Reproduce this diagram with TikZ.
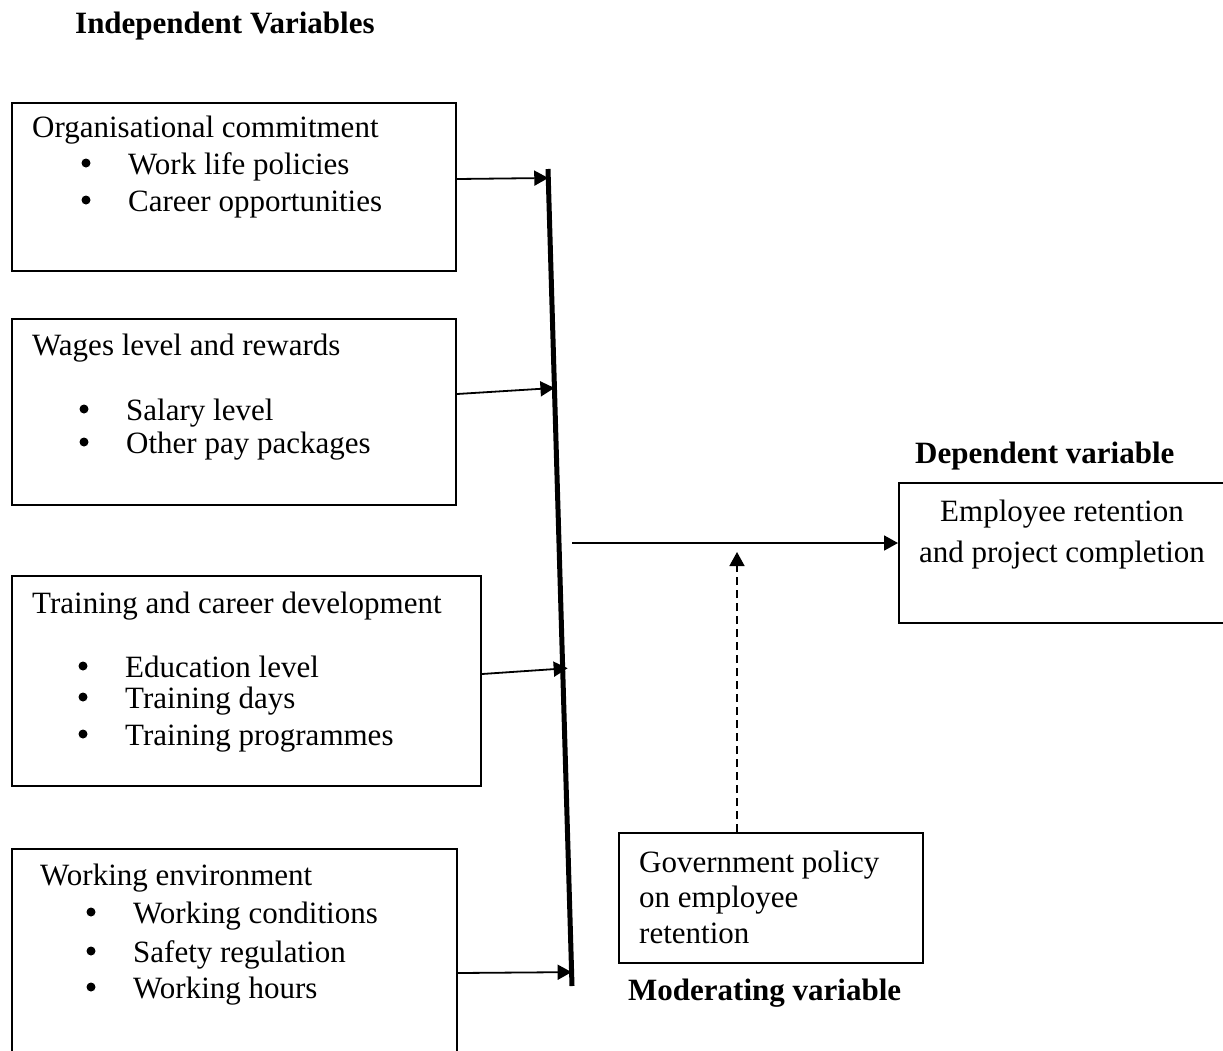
\documentclass[tikz,border=0pt]{standalone}
\usepackage{fontspec}
\setmainfont{Liberation Serif}
\usetikzlibrary{arrows.meta,calc}
\newcommand{\diagfont}{\fontsize{31}{37}\selectfont}

\begin{document}
\begin{tikzpicture}[x=1pt,y=-1pt,
  txt/.style={anchor=base west,inner sep=0pt,font=\diagfont},
  head/.style={txt,font=\diagfont\bfseries},
  varbox/.style={draw,line width=2pt,anchor=north west,inner sep=0pt},
  link/.style={line width=1.8pt,-{Triangle[length=14pt,width=15pt]}}]
\useasboundingbox (0,0) rectangle (1223,1050);

% boxes
\node[varbox,minimum width=444pt,minimum height=168pt] (orgbox) at (11,102) {};
\node[varbox,minimum width=444pt,minimum height=186pt] (wagebox) at (11,318) {};
\node[varbox,minimum width=469pt,minimum height=210pt] (trainbox) at (11,575) {};
\node[varbox,minimum width=445pt,minimum height=230pt] (workbox) at (11,848) {};
\node[varbox,minimum width=304pt,minimum height=130pt] (govbox) at (618,832) {};
\node[varbox,minimum width=340pt,minimum height=140pt] (depbox) at (898,482) {};

% independent variables
\node[head] (indep) at (75,33) {Independent Variables};
\node[txt] (org) at (32,137) {Organisational commitment};
\node[txt] (org1) at (128,174) {Work life policies};
\node[txt] (org2) at (128,211) {Career opportunities};
\node[txt] (wage) at (32,355) {Wages level and rewards};
\node[txt] (wage1) at (126,420) {Salary level};
\node[txt] (wage2) at (126,453) {Other pay packages};
\node[txt] (train) at (32,613) {Training and career development};
\node[txt] (train1) at (125,677) {Education level};
\node[txt] (train2) at (125,708) {Training days};
\node[txt] (train3) at (125,745) {Training programmes};
\node[txt] (work) at (40,885) {Working environment};
\node[txt] (work1) at (133,923) {Working conditions};
\node[txt] (work2) at (133,962) {Safety regulation};
\node[txt] (work3) at (133,998) {Working hours};
% bullets
\foreach \b in {org1,org2,wage1,wage2,train1,train2,train3,work1,work2,work3}
  \fill ([xshift=-42pt,yshift=11pt]\b.base west) circle (4.5pt);

% moderating and dependent
\node[txt] (gov1) at (639,872) {Government policy};
\node[txt] (gov2) at (639,907) {on employee};
\node[txt] (gov3) at (639,943) {retention};
\node[head] (modhead) at (628,1000) {Moderating variable};
\node[head] (dephead) at (915,463) {Dependent variable};
\node[txt,anchor=base] (dep1) at (1062,521) {Employee retention};
\node[txt,anchor=base] (dep2) at (1062,562) {and project completion};

% collecting bar
\coordinate (barT) at (548,169);
\coordinate (barB) at (572,986);
\draw[line width=5pt] (barT) -- (barB);
\coordinate (in1) at ($(barT)!0.011!(barB)$);
\coordinate (in2) at ($(barT)!0.268!(barB)$);
\coordinate (in3) at ($(barT)!0.611!(barB)+(5,0)$);
\coordinate (in4) at ($(barT)!0.983!(barB)$);
\draw[link] ([yshift=8pt]orgbox.east) -- (in1);
\draw[link] ([yshift=18pt]wagebox.east) -- (in2);
\draw[link] ([yshift=7pt]trainbox.east) -- (in3);
\draw[link] ([yshift=-9pt]workbox.east) -- (in4);

% to the dependent variable
\coordinate (join) at (572,543);
\draw[link] (join) -- (join -| depbox.west);
\coordinate (modtip) at (737,552);
\draw[link,line width=1.5pt,dash pattern=on 8pt off 5pt] (govbox.north -| modtip) -- (modtip);
\end{tikzpicture}
\end{document}
